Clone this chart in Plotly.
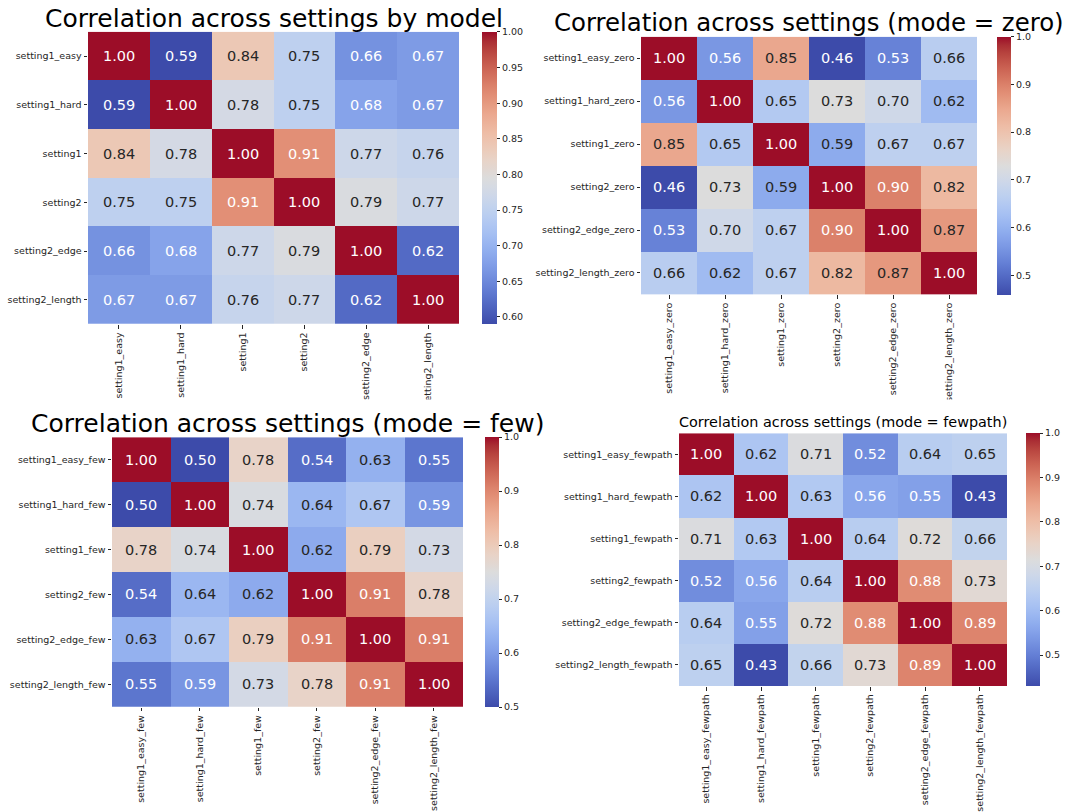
import plotly.graph_objects as go

W, H = 1068, 812

# ---------------- data ----------------
labels_model = ["setting1_easy", "setting1_hard", "setting1", "setting2", "setting2_edge", "setting2_length"]
corr_model = [
    [1.00, 0.59, 0.84, 0.75, 0.66, 0.67],
    [0.59, 1.00, 0.78, 0.75, 0.68, 0.67],
    [0.84, 0.78, 1.00, 0.91, 0.77, 0.76],
    [0.75, 0.75, 0.91, 1.00, 0.79, 0.77],
    [0.66, 0.68, 0.77, 0.79, 1.00, 0.62],
    [0.67, 0.67, 0.76, 0.77, 0.62, 1.00],
]

labels_zero = ["setting1_easy_zero", "setting1_hard_zero", "setting1_zero", "setting2_zero",
               "setting2_edge_zero", "setting2_length_zero"]
corr_zero = [
    [1.00, 0.56, 0.85, 0.46, 0.53, 0.66],
    [0.56, 1.00, 0.65, 0.73, 0.70, 0.62],
    [0.85, 0.65, 1.00, 0.59, 0.67, 0.67],
    [0.46, 0.73, 0.59, 1.00, 0.90, 0.82],
    [0.53, 0.70, 0.67, 0.90, 1.00, 0.87],
    [0.66, 0.62, 0.67, 0.82, 0.87, 1.00],
]

labels_few = ["setting1_easy_few", "setting1_hard_few", "setting1_few", "setting2_few",
              "setting2_edge_few", "setting2_length_few"]
corr_few = [
    [1.00, 0.50, 0.78, 0.54, 0.63, 0.55],
    [0.50, 1.00, 0.74, 0.64, 0.67, 0.59],
    [0.78, 0.74, 1.00, 0.62, 0.79, 0.73],
    [0.54, 0.64, 0.62, 1.00, 0.91, 0.78],
    [0.63, 0.67, 0.79, 0.91, 1.00, 0.91],
    [0.55, 0.59, 0.73, 0.78, 0.91, 1.00],
]

labels_fewpath = ["setting1_easy_fewpath", "setting1_hard_fewpath", "setting1_fewpath", "setting2_fewpath",
                  "setting2_edge_fewpath", "setting2_length_fewpath"]
corr_fewpath = [
    [1.00, 0.62, 0.71, 0.52, 0.64, 0.65],
    [0.62, 1.00, 0.63, 0.56, 0.55, 0.43],
    [0.71, 0.63, 1.00, 0.64, 0.72, 0.66],
    [0.52, 0.56, 0.64, 1.00, 0.88, 0.73],
    [0.64, 0.55, 0.72, 0.88, 1.00, 0.89],
    [0.65, 0.43, 0.66, 0.73, 0.89, 1.00],
]

titles = [
    "Correlation across settings by model",
    "Correlation across settings (mode = zero)",
    "Correlation across settings (mode = few)",
    "Correlation across settings (mode = fewpath)",
]

# ---------------- coolwarm colormap (slightly muted) ----------------
COOLWARM_BASE = [
    (59, 76, 192), (68, 90, 204), (77, 104, 215), (87, 117, 225), (98, 130, 234),
    (108, 142, 241), (119, 154, 247), (130, 165, 251), (141, 176, 254), (152, 185, 255),
    (163, 194, 255), (174, 201, 253), (184, 208, 249), (194, 213, 244), (204, 217, 238),
    (213, 219, 230), (221, 221, 221), (229, 216, 209), (236, 211, 197), (241, 204, 184),
    (245, 196, 172), (247, 187, 160), (247, 177, 148), (247, 166, 137), (244, 154, 123),
    (241, 141, 111), (236, 127, 99), (229, 112, 88), (222, 96, 77), (213, 80, 66),
    (203, 62, 56), (192, 40, 47), (180, 4, 38),
]


def mute(c, s=0.16, d=0.96):
    luma = 0.299 * c[0] + 0.587 * c[1] + 0.114 * c[2]
    out = []
    for v in c:
        v = v + s * (luma - v)
        v = v * (d + (1 - d) * luma / 255.0)
        out.append(max(0.0, min(255.0, v)))
    return tuple(out)


COOLWARM = [mute(c) for c in COOLWARM_BASE]
N = len(COOLWARM) - 1
colorscale = [[i / N, "rgb(%d,%d,%d)" % tuple(round(v) for v in c)] for i, c in enumerate(COOLWARM)]


def cmap(t):
    t = min(max(t, 0.0), 1.0) * N
    i = min(int(t), N - 1)
    f = t - i
    a, b = COOLWARM_BASE[i], COOLWARM_BASE[i + 1]
    return tuple((a[k] + (b[k] - a[k]) * f) / 255.0 for k in range(3))


def luminance(rgb):
    lin = [c / 12.92 if c <= 0.03928 else ((c + 0.055) / 1.055) ** 2.4 for c in rgb]
    return 0.2126 * lin[0] + 0.7152 * lin[1] + 0.0722 * lin[2]


def px(x):
    return x / W


def py(y):
    return 1 - y / H


# ---------------- layout boxes (page pixels) ----------------
panels = [
    dict(labels=labels_model, z=corr_model, box=(88, 459, 32, 327), cb=(482, 497), fmt=".2f", dtick=0.05,
         title=titles[0], tsize=25, ty=18.5),
    dict(labels=labels_zero, z=corr_zero, box=(641, 977, 37, 297), cb=(997, 1011), fmt=".1f", dtick=0.1,
         title=titles[1], tsize=24.4, ty=23),
    dict(labels=labels_few, z=corr_few, box=(112, 463, 441, 713), cb=(485, 499), fmt=".1f", dtick=0.1,
         title=titles[2], tsize=25, ty=427),
    dict(labels=labels_fewpath, z=corr_fewpath, box=(679, 1007, 437, 692), cb=(1026, 1040), fmt=".1f", dtick=0.1,
         title=titles[3], tsize=14.4, ty=426),
]

TICK_FONT = dict(family="DejaVu Sans", size=9.5, color="#262626")

fig = go.Figure()
annotations = []
layout_axes = {}

for k, p in enumerate(panels):
    idx = "" if k == 0 else str(k + 1)
    x0, x1, y0, y1 = p["box"]
    z = p["z"]
    labs = p["labels"]
    zmin = min(min(r) for r in z)
    zmax = max(max(r) for r in z)
    cbx0, cbx1 = p["cb"]
    fig.add_trace(go.Heatmap(
        z=z, x=labs, y=labs,
        xaxis="x" + idx, yaxis="y" + idx,
        colorscale=colorscale, zmin=zmin, zmax=zmax,
        xgap=0, ygap=0,
        colorbar=dict(
            x=px(cbx0), xanchor="left", xref="paper",
            y=(py(y0) + py(y1)) / 2, yanchor="middle", yref="paper",
            len=(y1 - y0) / H, lenmode="fraction",
            thickness=cbx1 - cbx0, thicknessmode="pixels",
            xpad=0, ypad=0, outlinewidth=0,
            ticks="outside", ticklen=3.5, tickwidth=0.8, tickcolor="#262626",
            tickformat=p["fmt"], dtick=p["dtick"], tick0=0,
            tickfont=TICK_FONT,
        ),
        hoverinfo="skip",
    ))
    layout_axes["xaxis" + idx] = dict(
        domain=[px(x0), px(x1)], anchor="y" + idx,
        tickangle=-90, ticks="outside", ticklen=3.5, tickwidth=0.8, tickcolor="#262626",
        tickfont=TICK_FONT, showgrid=False, zeroline=False, showline=False,
        type="category",
    )
    layout_axes["yaxis" + idx] = dict(
        domain=[py(y1), py(y0)], anchor="x" + idx,
        autorange="reversed", ticks="outside", ticklen=3.5, tickwidth=0.8, tickcolor="#262626",
        tickfont=TICK_FONT, showgrid=False, zeroline=False, showline=False,
        type="category",
    )
    for i, row in enumerate(z):
        for j, v in enumerate(row):
            col = cmap((v - zmin) / (zmax - zmin))
            tc = "#262626" if luminance(col) > 0.408 else "#ffffff"
            annotations.append(dict(
                x=labs[j], y=labs[i], xref="x" + idx, yref="y" + idx,
                text="%.2f" % v, showarrow=False,
                font=dict(family="DejaVu Sans", size=14.5, color=tc),
            ))
    annotations.append(dict(
        x=px((x0 + x1) / 2), y=py(p["ty"]), xref="paper", yref="paper",
        xanchor="center", yanchor="middle", text=p["title"], showarrow=False,
        font=dict(family="DejaVu Sans", size=p["tsize"], color="#000000"),
    ))

fig.update_layout(
    width=W, height=H,
    margin=dict(l=0, r=0, t=0, b=0),
    paper_bgcolor="white", plot_bgcolor="white",
    annotations=annotations,
    showlegend=False,
    shapes=[dict(type="rect", xref="paper", yref="paper", x0=0, x1=1,
                 y0=py(414), y1=py(403), fillcolor="white", line=dict(width=0), layer="above")],
    **layout_axes,
)

fig.write_html(
    "out.html",
    config={"displayModeBar": False},
    post_script="document.body.style.margin='0';document.body.style.overflow='hidden';",
)
